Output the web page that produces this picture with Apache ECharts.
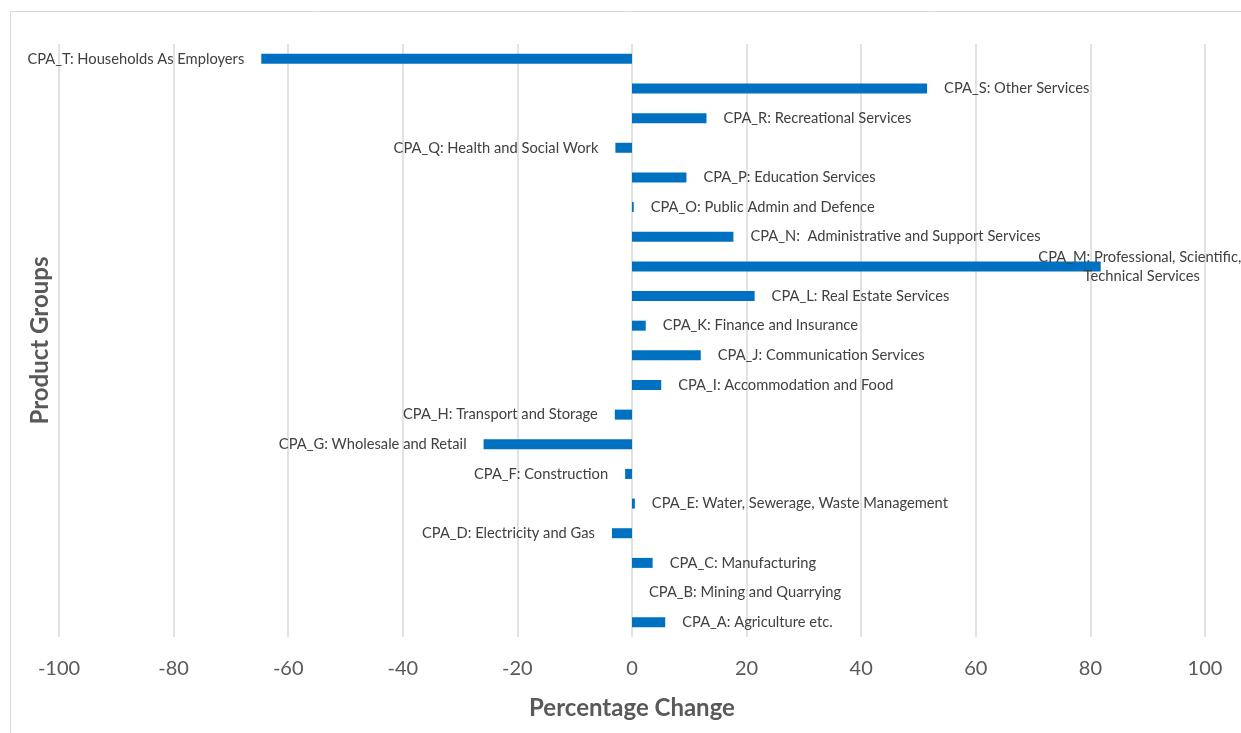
<!DOCTYPE html>
<html>
<head>
<meta charset="utf-8">
<script src="https://cdn.jsdelivr.net/npm/echarts@6/dist/echarts.min.js"></script>
<style>
html,body{margin:0;padding:0;background:#fff;}
#chart{width:1241px;height:733px;}
</style>
</head>
<body>
<div id="chart"></div>
<script>
const categories = [
  "CPA_A: Agriculture etc.",
  "CPA_B: Mining and Quarrying",
  "CPA_C: Manufacturing",
  "CPA_D: Electricity and Gas",
  "CPA_E: Water, Sewerage, Waste Management",
  "CPA_F: Construction",
  "CPA_G: Wholesale and Retail",
  "CPA_H: Transport and Storage",
  "CPA_I: Accommodation and Food",
  "CPA_J: Communication Services",
  "CPA_K: Finance and Insurance",
  "CPA_L: Real Estate Services",
  "CPA_M: Professional, Scientific, Technical Services",
  "CPA_N:  Administrative and Support Services",
  "CPA_O: Public Admin and Defence",
  "CPA_P: Education Services",
  "CPA_Q: Health and Social Work",
  "CPA_R: Recreational Services",
  "CPA_S: Other Services",
  "CPA_T: Households As Employers"
];
const values = [5.8, 0, 3.6, -3.5, 0.5, -1.2, -25.9, -3.0, 5.1, 12.0, 2.4, 21.4, 81.8, 17.7, 0.3, 9.5, -2.9, 13.0, 51.5, -64.7];
const xTicks = { min: -100, max: 100, interval: 20 };
const xTitle = "Percentage Change";
const yTitle = "Product Groups";
const wrappedLabelCategory = "CPA_M: Professional, Scientific, Technical Services";

const FONT = "Lato, 'Open Sans', sans-serif";
const LABEL_COLOR = "#404040";

const seriesData = values.map((v, i) => {
  const item = { value: v, name: categories[i] };
  if (categories[i] === wrappedLabelCategory) {
    item.label = {
      position: 'right', align: 'center', distance: 41,
      width: 222, overflow: 'break', lineHeight: 19
    };
  } else {
    item.label = { position: v < 0 ? 'left' : 'right' };
  }
  return item;
});

const chart = echarts.init(document.getElementById('chart'), null, { renderer: 'canvas' });
chart.setOption({
  animation: false,
  backgroundColor: '#ffffff',
  graphic: [{
    type: 'rect', silent: true, z: -10,
    shape: { x: 10.5, y: 11.5, width: 1400, height: 900 },
    style: { fill: 'none', stroke: '#d9d9d9', lineWidth: 1 }
  }],
  grid: { left: 59, right: 36, top: 44, bottom: 96, containLabel: false },
  xAxis: {
    type: 'value',
    min: xTicks.min, max: xTicks.max, interval: xTicks.interval,
    axisLine: { show: false },
    axisTick: { show: false },
    axisLabel: { color: '#595959', fontSize: 20, fontFamily: FONT, margin: 22 },
    splitLine: { show: true, lineStyle: { color: '#d9d9d9', width: 1.5 } },
    name: xTitle, nameLocation: 'middle', nameGap: 59,
    nameTextStyle: { color: '#595959', fontSize: 24, fontWeight: 'bold', fontFamily: FONT }
  },
  yAxis: {
    type: 'category',
    data: categories,
    axisLine: { show: false },
    axisTick: { show: false },
    axisLabel: { show: false },
    splitLine: { show: false },
    name: yTitle, nameLocation: 'middle', nameGap: 7, nameRotate: 90,
    nameTextStyle: { color: '#595959', fontSize: 24, fontWeight: 'bold', fontFamily: FONT }
  },
  series: [{
    type: 'bar',
    data: seriesData,
    barWidth: 10,
    itemStyle: { color: '#0070c0' },
    label: {
      show: true, formatter: '{b}', distance: 17,
      color: LABEL_COLOR, fontSize: 14.7, fontFamily: FONT
    }
  }]
});
</script>
</body>
</html>
